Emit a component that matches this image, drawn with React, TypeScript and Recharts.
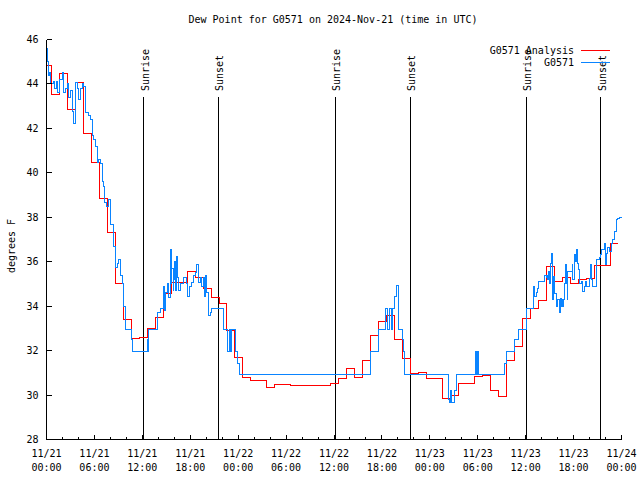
import React from 'react';
import { LineChart, Line, XAxis, YAxis, ReferenceLine } from 'recharts';

// hourly analysis values (step changes a little after each hour mark)
const analysisValues = [
  44.83, 43.52, 44.45, 42.85, 44.05, 41.75, 40.45, 38.85, 37.32, 35.0,
  33.42, 32.56, 32.6, 33.0, 33.5, 34.55, 35.05, 35.05, 35.54, 35.3,
  34.8, 34.4, 34.1, 32.9, 31.7, 30.8, 30.64, 30.64, 30.35, 30.49,
  30.49, 30.44, 30.44, 30.44, 30.44, 30.44, 30.53, 30.76, 31.2, 30.79,
  31.54, 32.67, 33.3, 33.57, 32.52, 31.66, 30.99, 31.03, 30.76, 30.76,
  29.86, 30.0, 30.54, 30.54, 30.84, 30.88, 30.19, 29.93, 31.54, 32.2,
  33.45, 33.9, 34.24, 35.79, 35.11, 35.31, 35.04, 35.22, 35.26, 35.83,
  35.83, 36.84, 36.84,
];
const analysisHours = analysisValues.map((_, k) => Math.max(0, k - 0.4));

// station observations: hours since 11/21 00:00 UTC
const obsHours = [
  0, 0.12, 0.31, 0.41, 0.56, 0.84, 1.0, 1.19, 1.41, 1.63, 1.96, 2.09, 2.38, 2.59, 2.79, 3.0,
  3.21, 3.41, 3.63, 3.84, 4.04, 4.25, 4.46, 4.66, 4.88, 5.25, 5.5, 5.71, 5.91, 6.13, 6.34, 6.54,
  6.75, 6.96, 7.16, 7.25, 7.5, 7.79, 8.0, 8.41, 8.63, 8.91, 9.04, 9.25, 9.46, 9.59, 9.66, 9.88,
  10.59, 10.71, 12.59, 12.66, 12.79, 13.84, 14.25, 14.59, 14.75, 14.88, 15.09, 15.29, 15.5, 15.59,
  15.71, 15.84, 15.91, 16.04, 16.13, 16.25, 16.34, 16.46, 16.54, 16.75, 17.16, 17.5, 17.66, 17.91,
  18.21, 18.41, 18.63, 18.84, 19.04, 19.25, 19.46, 19.66, 19.75, 19.88, 20.09, 20.29, 20.5, 20.71,
  22.16, 22.66, 22.91, 23.09, 23.21, 23.63, 23.91, 24.16, 40.59, 41.63, 42.5, 42.71, 42.96, 43.21,
  43.38, 43.63, 43.84, 44.04, 44.59, 44.75, 44.88, 50.29, 50.38, 50.5, 50.63, 50.75, 51.13, 51.34,
  53.75, 53.84, 53.91, 54.04, 57.38, 57.59, 58.63, 59.04, 60.09, 61.04, 61.08, 61.34, 61.54, 61.66,
  62.38, 62.59, 62.66, 62.79, 62.91, 63.0, 63.09, 63.21, 63.34, 63.41, 63.54, 63.63, 63.84, 63.91,
  64.04, 64.25, 64.38, 64.46, 64.59, 64.66, 64.79, 64.88, 65.0, 65.09, 65.21, 65.29, 65.84, 65.91,
  66.13, 66.25, 66.41, 66.54, 66.66, 66.75, 66.96, 67.16, 67.38, 67.5, 67.59, 68.0, 68.09, 68.21,
  68.34, 68.91, 69.25, 69.38, 69.46, 69.88, 70.0, 70.09, 70.29, 70.5, 70.71, 70.91, 71.13, 71.34,
  71.54, 71.75, 72.0,
];
const obsValues = [
  45.6, 45.0, 44.4, 44.5, 44.0, 44.1, 43.8, 44.1, 43.6, 44.2, 44.5, 43.6, 43.8, 44.0, 43.4, 43.7,
  42.77, 42.2, 44.05, 43.8, 43.3, 43.8, 44.0, 43.9, 42.7, 42.6, 42.4, 41.7, 41.5, 41.2, 40.45, 40.6,
  40.4, 39.6, 39.4, 38.65, 38.5, 38.8, 37.67, 36.7, 35.72, 35.9, 36.1, 35.4, 35.0, 34.44, 34.0, 32.95,
  32.5, 31.96, 32.5, 31.96, 32.95, 33.7, 33.9, 34.9, 33.8, 34.6, 35.0, 34.4, 36.54, 35.0,
  35.7, 34.7, 35.2, 36.0, 34.7, 35.6, 36.24, 35.3, 34.7, 35.0, 35.3, 35.0, 34.44, 34.9,
  35.05, 35.4, 35.5, 35.87, 35.05, 35.3, 34.9, 35.3, 34.44, 35.37, 34.6, 33.6, 33.7, 33.9,
  32.95, 31.96, 32.95, 31.96, 32.95, 31.96, 31.4, 30.94, 31.96, 32.95, 33.9, 32.95, 33.9, 32.95,
  33.9, 34.44, 34.92, 32.95, 32.5, 31.96, 30.94, 30.3, 29.8, 29.67, 30.2, 29.67, 30.2, 30.94,
  31.96, 30.94, 31.96, 30.94, 31.4, 31.96, 32.5, 32.95, 33.9, 34.9, 34.44, 34.6, 34.8, 35.1,
  35.4, 35.3, 35.4, 35.2, 35.57, 35.04, 35.94, 36.39, 35.79, 34.29, 35.34, 34.59, 34.29, 34.0,
  34.29, 33.7, 34.36, 34.0, 34.29, 34.0, 34.29, 35.04, 35.87, 35.04, 34.29, 35.57, 35.87, 35.19,
  36.32, 36.02, 36.54, 35.94, 35.64, 35.04, 35.1, 34.66, 34.89, 35.1, 34.88, 35.26, 35.87, 35.19,
  34.88, 36.09, 36.17, 36.32, 36.54, 36.84, 35.87, 36.39, 36.62, 36.47, 36.84, 36.99, 37.37, 37.9,
  37.93, 38.0, 38.0,
];

const sunHours = [12.15, 21.53, 36.17, 45.53, 60.05, 69.4];
const sunLabels = ['Sunrise', 'Sunset', 'Sunrise', 'Sunset', 'Sunrise', 'Sunset'];

const xTicks = Array.from({ length: 37 }, (_, i) => i * 2);
const yTicks = [28, 30, 32, 34, 36, 38, 40, 42, 44, 46];

const analysisData = analysisHours.map((h, i) => ({ h, v: analysisValues[i] }));
const obsData = obsHours.map((h, i) => ({ h, v: obsValues[i] }));

const FONT = '"DejaVu Sans Mono", monospace';
const RED = '#ff0000';
const BLUE = '#0a84ff';

const pad = (n: number) => (n < 10 ? '0' + n : '' + n);

const BottomTick = (props: any) => {
  const { x, y, payload } = props;
  const h = payload.value;
  const major = h % 6 === 0;
  const day = 21 + Math.floor(h / 24);
  return (
    <g>
      <line x1={x} y1={y} x2={x} y2={y - (major ? 5 : 3)} stroke="#000" shapeRendering="crispEdges" />
      {major && (
        <text x={x} y={y + 14} textAnchor="middle" dominantBaseline="central" fontFamily={FONT} fontSize={10} fill="#000">
          {`11/${day}`}
        </text>
      )}
      {major && (
        <text x={x} y={y + 28} textAnchor="middle" dominantBaseline="central" fontFamily={FONT} fontSize={10} fill="#000">
          {`${pad(h % 24)}:00`}
        </text>
      )}
    </g>
  );
};

const TopTick = (props: any) => {
  const { x, y, payload } = props;
  const major = payload.value % 6 === 0;
  return <line x1={x} y1={y} x2={x} y2={y + (major ? 5 : 3)} stroke="#000" shapeRendering="crispEdges" />;
};

const LeftTick = (props: any) => {
  const { x, y, payload } = props;
  return (
    <g>
      <line x1={x} y1={y} x2={x + 5} y2={y} stroke="#000" shapeRendering="crispEdges" />
      <text x={x - 8} y={y} textAnchor="end" dominantBaseline="central" fontFamily={FONT} fontSize={10} fill="#000">
        {payload.value}
      </text>
    </g>
  );
};

const RightTick = (props: any) => {
  const { x, y } = props;
  return <line x1={x} y1={y} x2={x - 5} y2={y} stroke="#000" shapeRendering="crispEdges" />;
};

const sunLabel = (text: string) => (p: any) => {
  const vb = p.viewBox || {};
  const x = vb.x + 5;
  const y = vb.y - 6;
  return (
    <text x={x} y={y} transform={`rotate(-90 ${x} ${y})`} fontFamily={FONT} fontSize={10} fill="#000">
      {text}
    </text>
  );
};

export default function App() {
  return (
    <div style={{ position: 'absolute', left: 0, top: 0, width: 640, height: 480, background: '#fff' }}>
      <LineChart
        width={640}
        height={480}
        margin={{ top: 39.5, right: 18.5, left: 0, bottom: 0 }}
      >
        <XAxis
          xAxisId="b"
          type="number"
          dataKey="h"
          domain={[0, 72]}
          ticks={xTicks}
          interval={0}
          height={40.5}
          tickSize={0}
          tickMargin={0}
          tickLine={false}
          axisLine={{ stroke: '#000', shapeRendering: 'crispEdges' }}
          tick={<BottomTick />}
        />
        <XAxis
          xAxisId="t"
          orientation="top"
          type="number"
          dataKey="h"
          domain={[0, 72]}
          ticks={xTicks}
          interval={0}
          height={0}
          mirror
          tickSize={0}
          tickMargin={0}
          tickLine={false}
          axisLine={{ stroke: '#000', shapeRendering: 'crispEdges' }}
          tick={<TopTick />}
        />
        <YAxis
          yAxisId="l"
          type="number"
          domain={[28, 46]}
          ticks={yTicks}
          interval={0}
          width={46.5}
          tickSize={0}
          tickMargin={0}
          tickLine={false}
          axisLine={{ stroke: '#000', shapeRendering: 'crispEdges' }}
          tick={<LeftTick />}
        />
        <YAxis
          yAxisId="r"
          orientation="right"
          type="number"
          domain={[28, 46]}
          ticks={yTicks}
          interval={0}
          width={0}
          mirror
          tickSize={0}
          tickMargin={0}
          tickLine={false}
          axisLine={{ stroke: '#000', shapeRendering: 'crispEdges' }}
          tick={<RightTick />}
        />
        {sunHours.map((h, i) => (
          <ReferenceLine
            key={i}
            xAxisId="b"
            yAxisId="l"
            segment={[{ x: h, y: 28 }, { x: h, y: 43.41 }]}
            stroke="#000"
            strokeWidth={1}
            shapeRendering="crispEdges"
            label={sunLabel(sunLabels[i])}
          />
        ))}
        <Line
          xAxisId="b"
          yAxisId="l"
          data={analysisData}
          dataKey="v"
          type="stepAfter"
          stroke={RED}
          strokeWidth={1}
          shapeRendering="crispEdges"
          dot={false}
          activeDot={false}
          isAnimationActive={false}
        />
        <Line
          xAxisId="b"
          yAxisId="l"
          data={obsData}
          dataKey="v"
          type="stepAfter"
          stroke={BLUE}
          strokeWidth={1}
          shapeRendering="crispEdges"
          dot={false}
          activeDot={false}
          isAnimationActive={false}
        />
      </LineChart>
      <svg width={640} height={480} style={{ position: 'absolute', left: 0, top: 0, pointerEvents: 'none' }}>
        <text x={333} y={19} textAnchor="middle" dominantBaseline="central" fontFamily={FONT} fontSize={10} fill="#000">
          Dew Point for G0571 on 2024-Nov-21 (time in UTC)
        </text>
        <text x={15} y={246} transform="rotate(-90 15 246)" textAnchor="middle" fontFamily={FONT} fontSize={10} fill="#000">
          degrees F
        </text>
        <text x={574} y={50} textAnchor="end" dominantBaseline="central" fontFamily={FONT} fontSize={10} fill="#000">
          G0571 Analysis
        </text>
        <line x1={581} y1={50.5} x2={610} y2={50.5} stroke={RED} />
        <text x={574} y={62.5} textAnchor="end" dominantBaseline="central" fontFamily={FONT} fontSize={10} fill="#000">
          G0571
        </text>
        <line x1={581} y1={62.5} x2={610} y2={62.5} stroke={BLUE} />
      </svg>
    </div>
  );
}
